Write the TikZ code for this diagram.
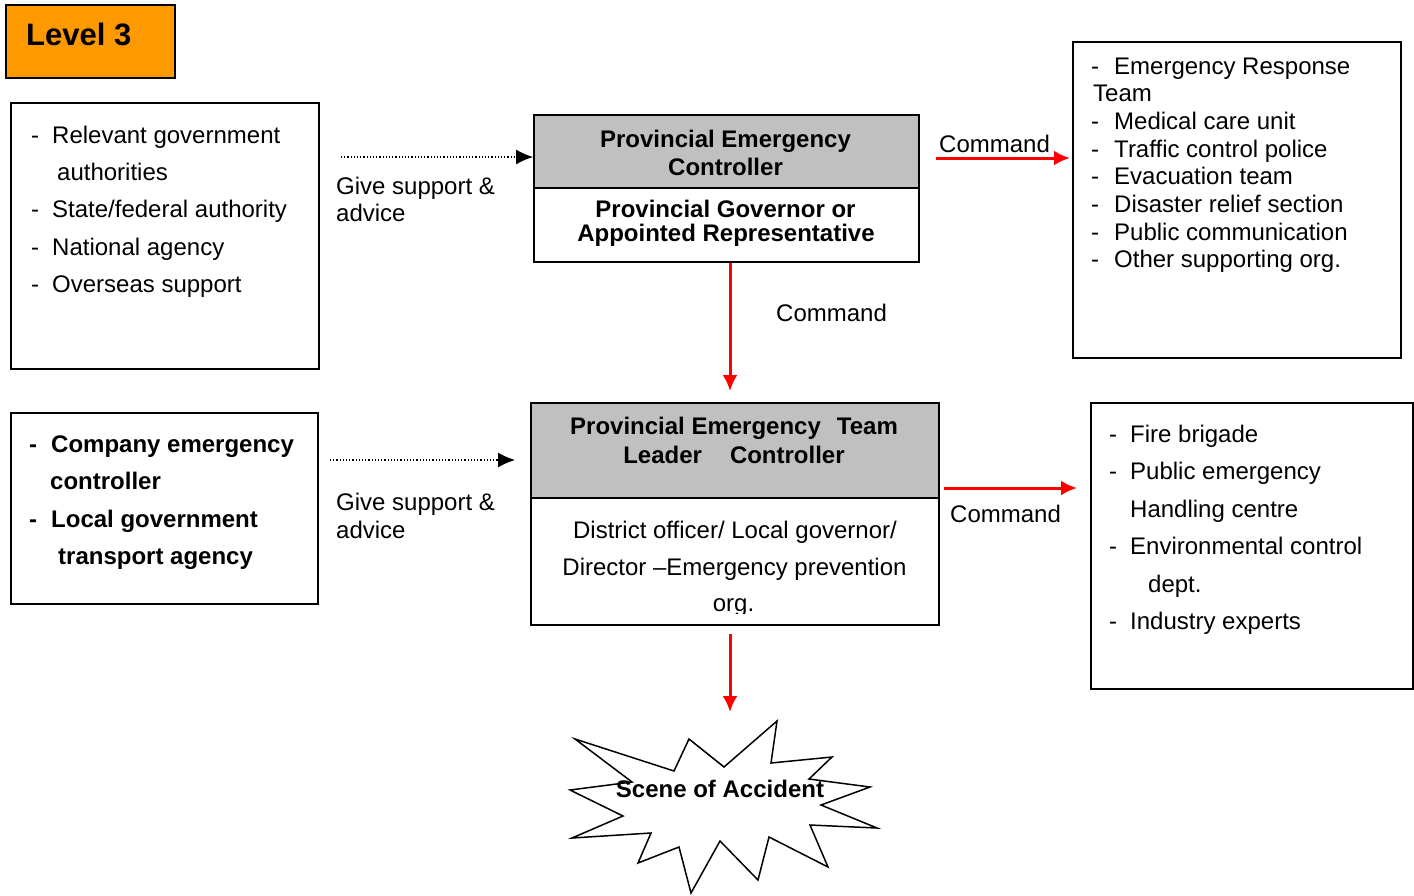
\documentclass[tikz,border=0pt]{standalone}
\usepackage{fontspec}
\setmainfont{Liberation Sans}
\usetikzlibrary{arrows.meta}
\definecolor{lvorange}{HTML}{FF9900}
\definecolor{hdrgray}{HTML}{C0C0C0}
\newcommand\dashitem[1]{\makebox[#1][l]{-}}
\begin{document}
\begin{tikzpicture}[x=1pt,y=-1pt,
  box/.style={draw=black,line width=1.5pt,inner sep=0pt,anchor=north west},
  txt/.style={anchor=base west,inner sep=0pt,font=\fontsize{24}{27}\selectfont},
  btxt/.style={anchor=base west,inner sep=0pt,font=\fontsize{24}{27}\selectfont\bfseries},
  ctxt/.style={anchor=base,inner sep=0pt,font=\fontsize{24}{27}\selectfont},
  cbtxt/.style={anchor=base,inner sep=0pt,font=\fontsize{24}{27}\selectfont\bfseries},
  cmd/.style={draw=red,line width=3pt,-{Latex[length=16pt,width=15pt]}},
  adv/.style={draw=black,line width=1.2pt,dotted,-{Latex[length=17pt,width=15pt]}}]
\useasboundingbox (0,0) rectangle (1414,895);

% Level box
\node[box,fill=lvorange,line width=2pt,minimum width=169pt,minimum height=73pt] (level) at (5,4) {};
\node[anchor=base west,inner sep=0pt,font=\fontsize{31}{34}\selectfont\bfseries] (leveltxt) at (26,45) {Level 3};

% Left box 1
\node[box,minimum width=308pt,minimum height=266pt] (left1) at (10,102) {};
\node[txt] (l1a) at (31,143) {\dashitem{21pt}Relevant government};
\node[txt] (l1b) at (57,180) {authorities};
\node[txt] (l1c) at (31,217) {\dashitem{21pt}State/federal authority};
\node[txt] (l1d) at (31,255) {\dashitem{21pt}National agency};
\node[txt] (l1e) at (31,292) {\dashitem{21pt}Overseas support};

% Left box 2
\node[box,minimum width=307pt,minimum height=191pt] (left2) at (10,412) {};
\node[btxt] (l2a) at (29,452) {\dashitem{22pt}Company emergency};
\node[btxt] (l2b) at (50,489) {controller};
\node[btxt] (l2c) at (29,527) {\dashitem{22pt}Local government};
\node[btxt] (l2d) at (58,564) {transport agency};

% Provincial Emergency Controller
\node[box,fill=hdrgray,minimum width=385pt,minimum height=73pt] (pecH) at (533,114) {};
\node[box,minimum width=385pt,minimum height=74pt] (pecB) at (533,187) {};
\node[cbtxt] (pec1) at (725.5,147) {Provincial Emergency};
\node[cbtxt] (pec2) at (725.5,175) {Controller};
\node[cbtxt] (pec3) at (725.5,217) {Provincial Governor or};
\node[cbtxt] (pec4) at (726,241) {Appointed Representative};

% Provincial Emergency Team Leader
\node[box,fill=hdrgray,minimum width=408pt,minimum height=95pt] (petH) at (530,402) {};
\node[box,minimum width=408pt,minimum height=127pt] (petB) at (530,497) {};
\node[cbtxt] (pet1) at (734,434) {Provincial Emergency\hspace{16pt}Team};
\node[cbtxt] (pet2) at (734,463) {Leader\hspace{28pt}Controller};
\node[ctxt] (pet3) at (735,538) {District officer/ Local governor/};
\node[ctxt] (pet4) at (734.5,575) {Director --Emergency prevention};
\begin{scope}
  \clip (531,598) rectangle (937,613);
  \node[ctxt] (pet5) at (733.5,611) {org.};
\end{scope}

% Right box 1
\node[box,minimum width=328pt,minimum height=316pt] (right1) at (1072,41) {};
\node[txt] (r1a) at (1091,74) {\dashitem{23pt}Emergency Response};
\node[txt] (r1b) at (1093,101) {Team};
\node[txt] (r1c) at (1091,129) {\dashitem{23pt}Medical care unit};
\node[txt] (r1d) at (1091,157) {\dashitem{23pt}Traffic control police};
\node[txt] (r1e) at (1091,184) {\dashitem{23pt}Evacuation team};
\node[txt] (r1f) at (1091,212) {\dashitem{23pt}Disaster relief section};
\node[txt] (r1g) at (1091,240) {\dashitem{23pt}Public communication};
\node[txt] (r1h) at (1091,267) {\dashitem{23pt}Other supporting org.};

% Right box 2
\node[box,minimum width=322pt,minimum height=286pt] (right2) at (1090,402) {};
\node[txt] (r2a) at (1109,442) {\dashitem{21pt}Fire brigade};
\node[txt] (r2b) at (1109,479) {\dashitem{21pt}Public emergency};
\node[txt] (r2c) at (1130,517) {Handling centre};
\node[txt] (r2d) at (1109,554) {\dashitem{21pt}Environmental control};
\node[txt] (r2e) at (1148,592) {dept.};
\node[txt] (r2f) at (1109,629) {\dashitem{21pt}Industry experts};

% Scene of accident starburst
\draw[line width=1.5pt,line join=miter] (575,739) -- (674,771) -- (689,739) -- (724,767) -- (777,721) -- (771,763)
  -- (832,757) -- (809,779) -- (870,787) -- (821,805) -- (877,828) -- (810,825) -- (828,867)
  -- (769,837) -- (758,880) -- (720,841) -- (691,893) -- (679,847) -- (638,863) -- (651,833)
  -- (572,838) -- (623,816) -- (570,790) -- (632,782) -- cycle;
\node[cbtxt] (scene) at (720,797) {Scene of Accident};

% Labels
\node[txt] (gs1a) at (336,194) {Give support \&};
\node[txt] (gs1b) at (336,221) {advice};
\node[txt] (gs2a) at (336,510) {Give support \&};
\node[txt] (gs2b) at (336,538) {advice};
\node[txt] (cmd1) at (939,152) {Command};
\node[txt] (cmd2) at (776,321) {Command};
\node[txt] (cmd3) at (950,522) {Command};

% Connector end points
\coordinate (a1s) at (341,157);
\coordinate (a2s) at (330,460);
\coordinate (a2e) at (515,460);
\coordinate (c1s) at (936,158);
\coordinate (c1e) at (1070,158);
\coordinate (d1s) at (730,263);
\coordinate (d1e) at (730,391);
\coordinate (c2s) at (944,488);
\coordinate (c2e) at (1077,488);
\coordinate (d2s) at (730,634);
\coordinate (d2e) at (730,712);

\draw[adv] (a1s) -- (pecH.west |- a1s);
\draw[adv] (a2s) -- (a2e);
\draw[cmd] (c1s) -- (c1e);
\draw[cmd] (d1s) -- (d1e);
\draw[cmd] (c2s) -- (c2e);
\draw[cmd] (d2s) -- (d2e);
\end{tikzpicture}
\end{document}
